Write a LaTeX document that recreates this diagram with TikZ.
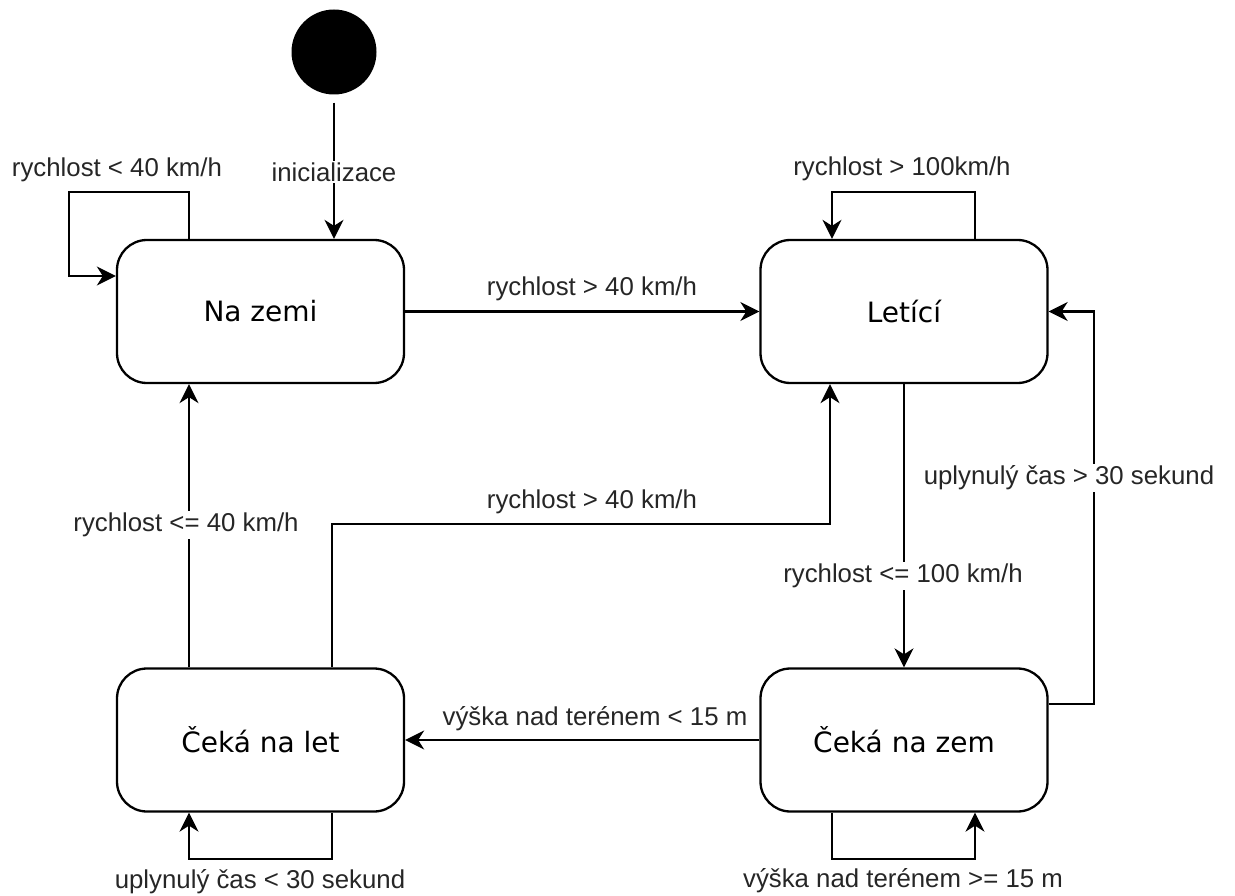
\documentclass[tikz,border=0pt]{standalone}
\usepackage{fontspec}
\setmainfont{Liberation Sans}
\newfontfamily\statefont{DejaVu Sans}
\usetikzlibrary{arrows.meta}

\begin{document}
\begin{tikzpicture}[x=1pt,y=-1pt,
  state/.style={draw, line width=2.3pt, rounded corners=30pt,
    minimum width=287pt, minimum height=143pt, inner sep=0pt,
    font=\statefont\fontsize{28}{34}\selectfont},
  arr/.style={line width=2.3pt, -{Stealth[length=19pt,width=19pt,inset=6pt]}},
  lbl/.style={font=\fontsize{25.8}{30}\selectfont, inner sep=2pt, text=black!85},
  lblw/.style={lbl, fill=white},
]
\useasboundingbox (0,0) rectangle (1235,896);

% states
\node[circle, fill=black, minimum size=85pt, inner sep=0pt] (init) at (334,52) {};
\node[state] (nz) at (260.5,311.5) {Na zemi};
\node[state] (le) at (904,311.5) {Letící};
\node[state] (zl) at (260.5,740) {Čeká na let};
\node[state] (zm) at (904,740) {Čeká na zem};

% bend points
\coordinate (l1a) at (189,192);
\coordinate (l1b) at (69,276);
\coordinate (l2a) at (975,192);
\coordinate (l2b) at (832,192);
\coordinate (l3a) at (832,859);
\coordinate (l3b) at (975,859);
\coordinate (l4a) at (332,859);
\coordinate (l4b) at (189,859);
\coordinate (m1) at (332,524);
\coordinate (m2) at (830,524);
\coordinate (r1) at (1094,704);

% transitions
\draw[arr, shorten <=8pt] (init) -- (init |- nz.north);
\draw[arr] (nz.north -| l1a) -- (l1a) -| (l1b) -- (nz.west |- l1b);
\draw[arr] (nz.east) -- (le.west);
\draw[arr] (le.north -| l2a) -- (l2a) -- (l2b) -- (le.north -| l2b);
\draw[arr] (le.south) -- (zm.north);
\draw[arr] (zm.east |- r1) -- (r1) |- (le.east);
\draw[arr] (zm.west) -- (zl.east);
\draw[arr] (zm.south -| l3a) -- (l3a) -- (l3b) -- (zm.south -| l3b);
\draw[arr] (zl.south -| l4a) -- (l4a) -- (l4b) -- (zl.south -| l4b);
\draw[arr] (zl.north -| l4b) -- (nz.south -| l4b);
\draw[arr] (zl.north -| m1) -- (m1) -- (m2) -- (le.south -| m2);

% transition labels
\node[lblw] (t0) at (334,172) {inicializace};
\node[lbl] (t1) at (117,170) {rychlost < 40 km/h};
\node[lbl] (t2) at (592,289) {rychlost > 40 km/h};
\node[lbl] (t3) at (902,169) {rychlost > 100km/h};
\node[lblw] (t4) at (903,576) {rychlost <= 100 km/h};
\node[lblw] (t5) at (1069,478) {uplynulý čas > 30 sekund};
\node[lbl] (t6) at (595,719) {výška nad terénem < 15 m};
\node[lbl] (t7) at (903,881) {výška nad terénem >= 15 m};
\node[lbl] (t8) at (260,882) {uplynulý čas < 30 sekund};
\node[lblw] (t9) at (186,525) {rychlost <= 40 km/h};
\node[lbl] (t10) at (592,502) {rychlost > 40 km/h};
\end{tikzpicture}
\end{document}
